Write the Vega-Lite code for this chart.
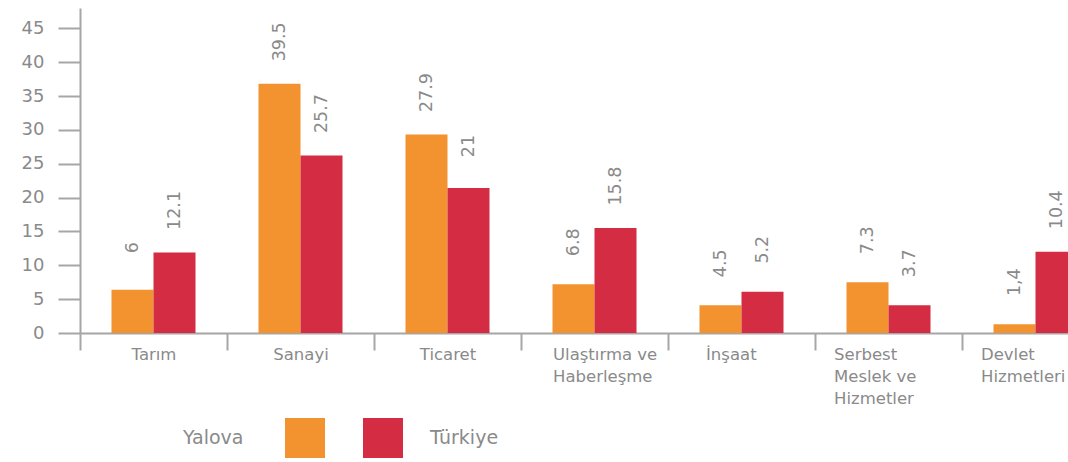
{
  "$schema": "https://vega.github.io/schema/vega-lite/v6.json",
  "width": 988,
  "height": 325,
  "autosize": {"type": "none"},
  "padding": {"left": 80, "top": 8, "right": 0, "bottom": 129},
  "background": "white",
  "config": {"view": {"stroke": null}, "font": "DejaVu Sans"},
  "data": {
    "values": [
      {"sektor": "Tarım", "bolge": "Yalova", "deger": 6.4, "etiket": "6"},
      {"sektor": "Tarım", "bolge": "Türkiye", "deger": 11.9, "etiket": "12.1"},
      {"sektor": "Sanayi", "bolge": "Yalova", "deger": 36.8, "etiket": "39.5"},
      {"sektor": "Sanayi", "bolge": "Türkiye", "deger": 26.2, "etiket": "25.7"},
      {"sektor": "Ticaret", "bolge": "Yalova", "deger": 29.3, "etiket": "27.9"},
      {"sektor": "Ticaret", "bolge": "Türkiye", "deger": 21.4, "etiket": "21"},
      {"sektor": "Ulaştırma ve Haberleşme", "bolge": "Yalova", "deger": 7.2, "etiket": "6.8"},
      {"sektor": "Ulaştırma ve Haberleşme", "bolge": "Türkiye", "deger": 15.5, "etiket": "15.8"},
      {"sektor": "İnşaat", "bolge": "Yalova", "deger": 4.1, "etiket": "4.5"},
      {"sektor": "İnşaat", "bolge": "Türkiye", "deger": 6.1, "etiket": "5.2"},
      {"sektor": "Serbest Meslek ve Hizmetler", "bolge": "Yalova", "deger": 7.5, "etiket": "7.3"},
      {"sektor": "Serbest Meslek ve Hizmetler", "bolge": "Türkiye", "deger": 4.1, "etiket": "3.7"},
      {"sektor": "Devlet Hizmetleri", "bolge": "Yalova", "deger": 1.3, "etiket": "1,4"},
      {"sektor": "Devlet Hizmetleri", "bolge": "Türkiye", "deger": 12.0, "etiket": "10.4"}
    ]
  },
  "encoding": {
    "x": {
      "field": "sektor",
      "type": "nominal",
      "sort": ["Tarım", "Sanayi", "Ticaret", "Ulaştırma ve Haberleşme", "İnşaat", "Serbest Meslek ve Hizmetler", "Devlet Hizmetleri"],
      "scale": {"range": [0, 1029], "paddingInner": 0, "paddingOuter": 0},
      "axis": {
        "title": null,
        "labelAngle": 0,
        "tickBand": "extent",
        "tickSize": 17,
        "tickWidth": 2,
        "tickColor": "#a6a6a6",
        "domainColor": "#a6a6a6",
        "domainWidth": 2,
        "labelPadding": -4,
        "labelFontSize": 16.5,
        "labelColor": "#8a8a8a",
        "labelLineHeight": 22,
        "labelBaseline": "top",
        "labelOverlap": false,
        "labelBound": false,
        "labelLimit": 0,
        "labelExpr": "datum.value == 'Ulaştırma ve Haberleşme' ? ['Ulaştırma ve', 'Haberleşme'] : datum.value == 'Serbest Meslek ve Hizmetler' ? ['Serbest', 'Meslek ve', 'Hizmetler'] : datum.value == 'Devlet Hizmetleri' ? ['Devlet', 'Hizmetleri'] : datum.label",
        "labelAlign": {"condition": {"test": "indexof(['Tarım','Sanayi','Ticaret'], datum.value) >= 0", "value": "center"}, "value": "left"},
        "labelOffset": {
          "condition": [
            {"test": "datum.value === 'Ulaştırma ve Haberleşme'", "value": -42},
            {"test": "datum.value === 'İnşaat'", "value": -36},
            {"test": "datum.value === 'Serbest Meslek ve Hizmetler'", "value": -55},
            {"test": "datum.value === 'Devlet Hizmetleri'", "value": -55}
          ],
          "value": 0
        }
      }
    },
    "xOffset": {
      "field": "bolge",
      "type": "nominal",
      "sort": ["Yalova", "Türkiye"],
      "scale": {"paddingInner": 0, "paddingOuter": 0.75}
    },
    "y": {
      "field": "deger",
      "type": "quantitative",
      "scale": {"domain": [0, 48], "nice": false},
      "axis": {
        "title": null,
        "grid": false,
        "values": [0, 5, 10, 15, 20, 25, 30, 35, 40, 45],
        "tickSize": 22,
        "tickWidth": 2,
        "tickColor": "#a6a6a6",
        "domainColor": "#a6a6a6",
        "domainWidth": 2,
        "labelPadding": 14,
        "labelFontSize": 18,
        "labelColor": "#8a8a8a"
      }
    }
  },
  "layer": [
    {
      "mark": {"type": "bar", "clip": true},
      "encoding": {
        "color": {
          "field": "bolge",
          "type": "nominal",
          "sort": ["Yalova", "Türkiye"],
          "scale": {"domain": ["Yalova", "Türkiye"], "range": ["#F29330", "#D42C42"]},
          "legend": {
            "orient": "none",
            "legendX": 103,
            "legendY": 410,
            "direction": "horizontal",
            "title": "Yalova",
            "titleOrient": "left",
            "titleFontSize": 19,
            "titleFontWeight": "normal",
            "titleColor": "#8a8a8a",
            "titlePadding": 41,
            "titleAnchor": "middle",
            "titleBaseline": "middle",
            "labelExpr": "datum.label == 'Yalova' ? '' : datum.label",
            "symbolType": "square",
            "symbolSize": 1600,
            "symbolStrokeWidth": 0,
            "symbolOpacity": 1,
            "labelOffset": 27,
            "columnPadding": 11,
            "labelFontSize": 19,
            "labelColor": "#8a8a8a"
          }
        }
      }
    },
    {
      "mark": {"type": "text", "angle": 270, "dx": 42, "align": "center", "baseline": "middle", "fontSize": 17.5, "color": "#8a8a8a"},
      "encoding": {"text": {"field": "etiket"}}
    }
  ]
}
